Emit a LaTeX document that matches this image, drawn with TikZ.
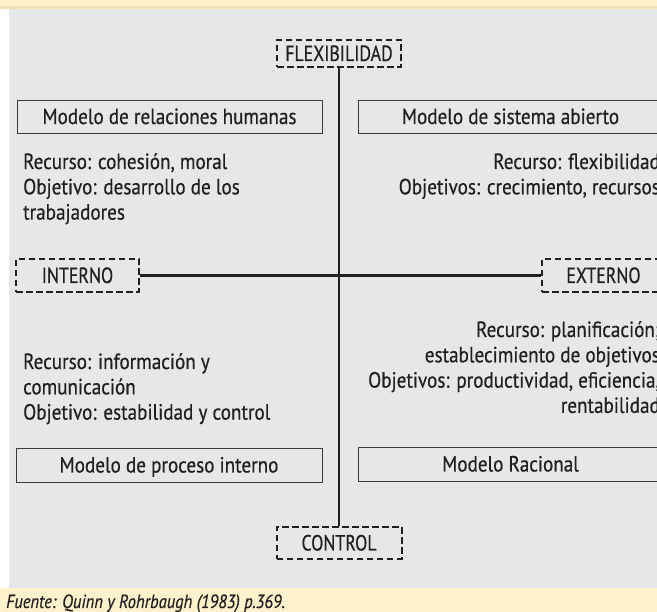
\documentclass[tikz,border=0pt]{standalone}
\usepackage{fontspec}
\setmainfont{PT Sans}[FakeStretch=0.87, FakeBold=0.5]
\newfontfamily\axisfont{PT Sans}[FakeStretch=0.81, FakeBold=0.5]
\definecolor{ink}{HTML}{231F20}
\definecolor{boxline}{HTML}{3C3A3B}
\definecolor{panel}{HTML}{E6E7E8}
\definecolor{band}{HTML}{FEF2CC}
\definecolor{bandline}{HTML}{F2E4B6}
\begin{document}
\begin{tikzpicture}[x=1pt,y=-1pt,
  bodytext/.style={inner sep=0pt, text=ink, font=\fontsize{22}{25.3}\selectfont},
  modelbox/.style={draw=boxline, line width=1pt, inner sep=0pt, minimum height=33pt,
    text=ink, font=\fontsize{22}{25.3}\selectfont, text height=13pt, text depth=0pt},
  axisbox/.style={draw=ink, line width=2pt, dash pattern=on 6.5pt off 3.5pt, inner sep=0pt,
    text=ink, font=\axisfont\fontsize{22}{25.3}\selectfont, text height=15pt, text depth=0pt},
  axisline/.style={draw=ink, line width=2.2pt}]
\useasboundingbox (0,0) rectangle (657,612);
\clip (0,0) rectangle (657,612);
% backgrounds
\fill[white] (0,0) rectangle (657,612);
\fill[band] (0,0) rectangle (657,6);
\fill[bandline] (0,6) rectangle (657,9);
\fill[panel] (9,9) rectangle (657,588);
\fill[band] (0,588) rectangle (657,612);
% axis labels
\node[axisbox, minimum width=124pt, minimum height=27pt] (flex) at (339,53.5) {FLEXIBILIDAD};
\node[axisbox, minimum width=125pt, minimum height=32pt] (ctrl) at (339,543) {CONTROL};
\node[axisbox, minimum width=123pt, minimum height=33pt] (int) at (77.5,275.5) {INTERNO};
\node[axisbox, minimum width=123pt, minimum height=33pt] (ext) at (603.5,275.5) {EXTERNO};
% axes
\draw[axisline] (flex.south) -- (ctrl.north);
\draw[axisline] (int.east) -- (ext.west);
% model boxes
\node[modelbox, minimum width=305pt] (mrh) at (169.5,117.5) {Modelo de relaciones humanas};
\node[modelbox, minimum width=305pt] (msa) at (510.5,117.5) {Modelo de sistema abierto};
\node[modelbox, minimum width=306pt, minimum height=34pt] (mpi) at (169,466) {Modelo de proceso interno};
\node[modelbox, minimum width=305pt, minimum height=34pt] (mr) at (510.5,465) {Modelo Racional};
% quadrant texts
\node[bodytext, anchor=base west] (tl) at (23,169)
  {\begin{tabular}[t]{@{}l@{}}Recurso: cohesión, moral\\Objetivo: desarrollo de los\\trabajadores\end{tabular}};
\node[bodytext, anchor=base east] (tr) at (660,169)
  {\begin{tabular}[t]{@{}r@{}}Recurso: flexibilidad\\Objetivos: crecimiento, recursos\end{tabular}};
\node[bodytext, anchor=base west] (bl) at (23,369)
  {\begin{tabular}[t]{@{}l@{}}Recurso: información y\\comunicación\\Objetivo: estabilidad y control\end{tabular}};
\node[bodytext, anchor=base east] (br) at (660,337)
  {\begin{tabular}[t]{@{}r@{}}Recurso: planificación;\\establecimiento de objetivos\\Objetivos: productividad, eficiencia,\\rentabilidad\end{tabular}};
% source
\node[inner sep=0pt, anchor=base west, text=ink, font=\fontsize{19}{22}\selectfont\itshape] (src) at (6,608)
  {Fuente: Quinn y Rohrbaugh (1983) p.369.};
\end{tikzpicture}
\end{document}
